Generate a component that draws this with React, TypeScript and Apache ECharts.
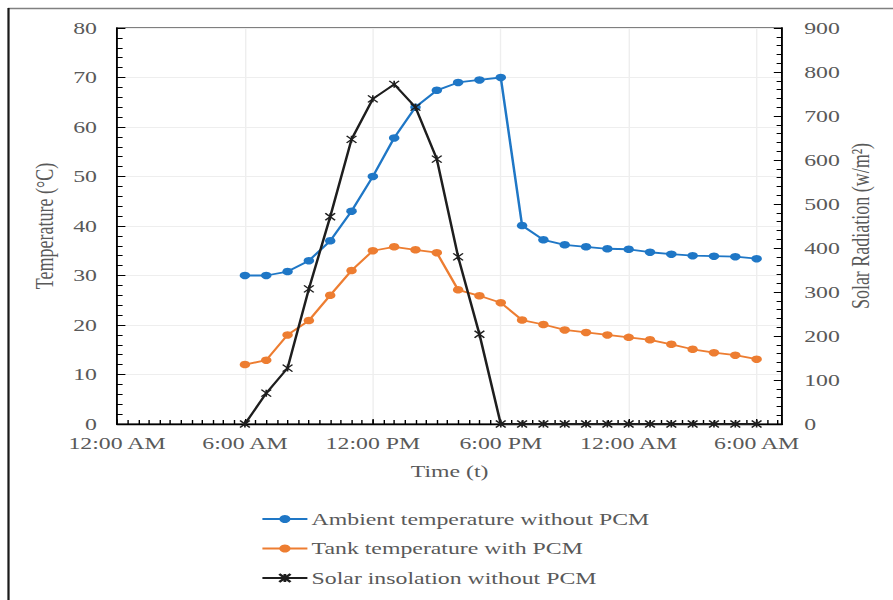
import React, { useEffect, useRef } from 'react';
import * as echarts from 'echarts';

// hours since 12:00 AM of day 1
const hours = [6, 7, 8, 9, 10, 11, 12, 13, 14, 15, 16, 17, 18, 19, 20, 21, 22, 23, 24, 25, 26, 27, 28, 29, 30];
const ambient = [30.0, 30.0, 30.8, 33.0, 37.0, 43.0, 50.0, 57.8, 64.0, 67.4, 69.0, 69.5, 70.0, 40.1, 37.2, 36.2, 35.8, 35.4, 35.3, 34.7, 34.3, 34.0, 33.9, 33.8, 33.4];
const tank = [12.0, 12.9, 18.0, 20.9, 26.0, 31.0, 35.0, 35.8, 35.2, 34.6, 27.1, 25.9, 24.5, 21.0, 20.1, 19.0, 18.5, 18.0, 17.5, 17.0, 16.1, 15.1, 14.4, 13.9, 13.1];
const solar = [0, 70, 127, 307, 471, 647, 739, 772, 720, 602, 380, 204, 0, 0, 0, 0, 0, 0, 0, 0, 0, 0, 0, 0, 0];
const xTickLabels = ['12:00 AM', '6:00 AM', '12:00 PM', '6:00 PM', '12:00 AM', '6:00 AM'];
const seriesNames = ['Ambient temperature without PCM', 'Tank temperature with PCM', 'Solar insolation without PCM'];

const SX = 1.4; // horizontal stretch of the reference picture
const W = 893;
const H = 600;
const FONT = 'Liberation Serif, "Times New Roman", serif';
const GRAY = '#595959';

export default function App() {
  const ref = useRef<HTMLDivElement>(null);
  useEffect(() => {
    if (!ref.current) return;
    const chart = echarts.init(ref.current, undefined, { renderer: 'svg' });
    const px = (x: number) => x / SX;
    const pair = (arr: number[]) => hours.map((h, i) => [h, arr[i]]);
    chart.setOption({
      animation: false,
      backgroundColor: '#ffffff',
      textStyle: { fontFamily: FONT },
      grid: {
        left: px(117),
        right: W / SX - px(782),
        top: 28,
        bottom: H - 424,
        show: true,
        borderColor: '#000',
        borderWidth: 1,
        containLabel: false,
      },
      legend: {
        orient: 'vertical',
        left: px(261),
        top: 510,
        padding: 0,
        itemWidth: px(45),
        itemHeight: 10,
        itemGap: 11.5,
        textStyle: { fontSize: 17, color: GRAY, fontFamily: FONT, lineHeight: 18, padding: [0, 0, 0, -2] },
        data: seriesNames,
      },
      xAxis: [
        {
          type: 'value',
          min: 0,
          max: 31.2,
          interval: 6,
          name: 'Time (t)',
          nameLocation: 'middle',
          nameGap: 39,
          nameTextStyle: { fontSize: 17, color: GRAY, fontFamily: FONT },
          axisLine: { show: true, onZero: false, lineStyle: { color: '#000', width: 1.3 } },
          axisTick: { show: true, inside: true, length: 5, lineStyle: { color: '#000', width: 1 } },
          axisLabel: {
            margin: 11,
            fontSize: 17,
            color: GRAY,
            fontFamily: FONT,
            showMaxLabel: false,
            formatter: (v: number) => {
              const idx = Math.round(v / 6);
              return Math.abs(v - idx * 6) < 1e-6 ? xTickLabels[idx] ?? '' : '';
            },
          },
          splitLine: { show: true, lineStyle: { color: '#eeeeee', width: 1 } },
        },
        {
          type: 'value',
          position: 'bottom',
          min: 0,
          max: 31.2,
          interval: 0.5,
          axisLine: { show: false },
          axisTick: { show: true, inside: true, length: 4, lineStyle: { color: '#000', width: 1 } },
          axisLabel: { show: false },
          splitLine: { show: false },
        },
      ],
      yAxis: [
        {
          type: 'value',
          min: 0,
          max: 80,
          interval: 10,
          name: 'Temperature (°C)',
          nameLocation: 'middle',
          nameRotate: 90,
          nameGap: 43,
          nameMoveOverlap: false,
          nameTextStyle: { fontSize: 18, color: GRAY, fontFamily: FONT },
          axisLine: { show: true, onZero: false, lineStyle: { color: '#000', width: 1.3 } },
          axisTick: { show: true, inside: true, length: 6, lineStyle: { color: '#000', width: 1 } },
          minorTick: { show: true, splitNumber: 5, length: 4, lineStyle: { color: '#000', width: 1 } },
          axisLabel: { margin: px(20), fontSize: 17, color: GRAY, fontFamily: FONT },
          splitLine: { show: true, lineStyle: { color: '#eeeeee', width: 1 } },
        },
        {
          type: 'value',
          min: 0,
          max: 900,
          interval: 100,
          position: 'right',
          name: 'Solar Radiation (w/m²)',
          nameLocation: 'middle',
          nameRotate: 90,
          nameGap: 47,
          nameMoveOverlap: false,
          nameTextStyle: { fontSize: 18, color: GRAY, fontFamily: FONT },
          axisLine: { show: true, onZero: false, lineStyle: { color: '#000', width: 1.3 } },
          axisTick: { show: true, inside: true, length: 6, lineStyle: { color: '#000', width: 1 } },
          minorTick: { show: true, splitNumber: 5, length: 4, lineStyle: { color: '#000', width: 1 } },
          axisLabel: { margin: px(22), fontSize: 17, color: GRAY, fontFamily: FONT },
          splitLine: { show: false },
        },
      ],
      graphic: [
        {
          type: 'line',
          shape: { x1: px(8), y1: 8.5, x2: W / SX, y2: 8.5 },
          style: { stroke: '#808080', lineWidth: 1.6 },
          z: 100,
        },
        {
          type: 'line',
          shape: { x1: px(8.5), y1: 8, x2: px(8.5), y2: H },
          style: { stroke: '#1a1a1a', lineWidth: 1.6 },
          z: 100,
        },
      ],
      series: [
        {
          name: seriesNames[0],
          type: 'line',
          xAxisIndex: 0,
          yAxisIndex: 0,
          data: pair(ambient),
          symbol: 'circle',
          symbolSize: 7.5,
          lineStyle: { color: '#1f77c6', width: 1.8 },
          itemStyle: { color: '#1f77c6' },
          z: 3,
        },
        {
          name: seriesNames[1],
          type: 'line',
          xAxisIndex: 0,
          yAxisIndex: 0,
          data: pair(tank),
          symbol: 'circle',
          symbolSize: 7.5,
          lineStyle: { color: '#ed7d31', width: 1.8 },
          itemStyle: { color: '#ed7d31' },
          z: 3,
        },
        {
          name: seriesNames[2],
          type: 'line',
          xAxisIndex: 0,
          yAxisIndex: 1,
          data: pair(solar),
          symbol: 'path://M0,0L10,10M10,0L0,10M5,0L5,10',
          symbolSize: 7,
          lineStyle: { color: '#1e1e1e', width: 1.8 },
          itemStyle: { color: 'none', borderColor: '#1e1e1e', borderWidth: 1.2 },
          z: 4,
        },
      ],
    });
    return () => chart.dispose();
  }, []);

  return (
    <div style={{ position: 'fixed', left: 0, top: 0, width: W, height: H, overflow: 'hidden', background: '#fff' }}>
      <div
        ref={ref}
        style={{ width: W / SX, height: H, transform: `scaleX(${SX})`, transformOrigin: '0 0' }}
      />
    </div>
  );
}
